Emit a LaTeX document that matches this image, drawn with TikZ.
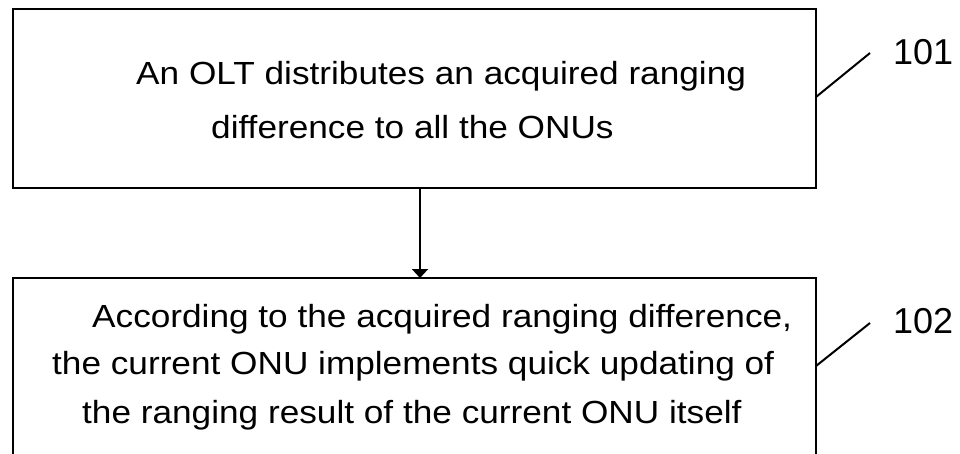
\documentclass[tikz,border=0pt]{standalone}
\usepackage{fontspec}
\setmainfont{Liberation Sans}
\newfontfamily\boxfont[FakeStretch=1.1]{Liberation Sans}
\usetikzlibrary{arrows.meta}
\tikzset{
  stepbox/.style={draw=black, line width=2pt, minimum width=803pt, inner sep=0pt, outer sep=0pt, anchor=north west},
  txt/.style={anchor=base west, inner sep=0pt, font=\boxfont\fontsize{32pt}{38pt}\selectfont},
  lbl/.style={anchor=base west, inner sep=0pt, font=\fontsize{36pt}{42pt}\selectfont},
  lead/.style={line width=2pt},
  flow/.style={line width=2pt, -{Triangle[width=16pt,length=9pt]}}
}
\begin{document}
\begin{tikzpicture}[x=1pt,y=-1pt]
\useasboundingbox (0,0) rectangle (960,453);
\node[stepbox, minimum height=179pt] (b1) at (13,9) {};
\node[stepbox, minimum height=192pt] (b2) at (13,278) {};
% texts of box 1
\node[txt] (t11) at (136,84) {An OLT distributes an acquired ranging};
\node[txt] (t12) at (211,138) {difference to all the ONUs};
% texts of box 2
\node[txt] (t21) at (92,327) {According to the acquired ranging difference,};
\node[txt] (t22) at (52,374) {the current ONU implements quick updating of};
\node[txt] (t23) at (82,423) {the ranging result of the current ONU itself};
% arrow
\draw[flow] ([xshift=5.5pt]b1.south) -- ([xshift=5.5pt]b2.north);
% labels
\node[lbl] (l1) at (893,64) {101};
\node[lbl] (l2) at (893,333) {102};
\coordinate (e1) at (870,53);
\coordinate (e2) at (870,323);
\draw[lead] ([yshift=1.5pt]b1.east) -- (e1);
\draw[lead] ([yshift=-88pt]b2.north east) -- (e2);
\end{tikzpicture}
\end{document}
